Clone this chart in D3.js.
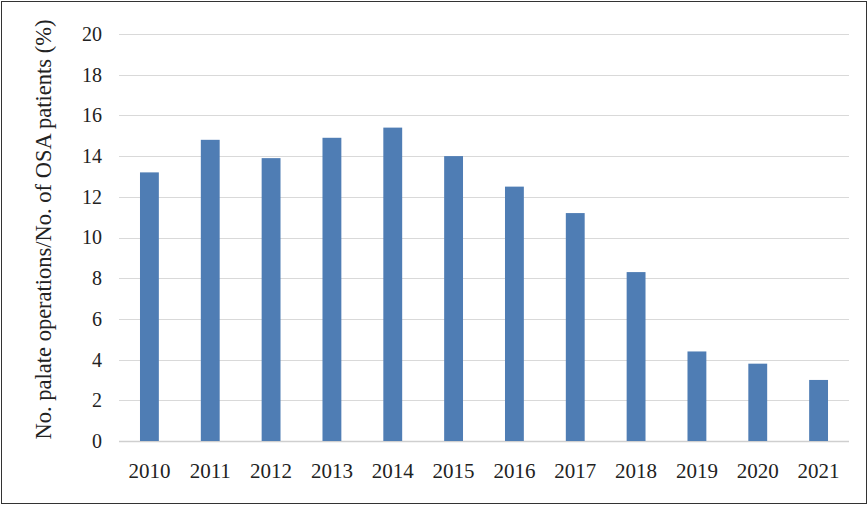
<!DOCTYPE html>
<html>
<head>
<meta charset="utf-8">
<script src="https://cdn.jsdelivr.net/npm/d3@7"></script>
<style>
  html, body { margin: 0; padding: 0; background: #fff; }
  svg { display: block; }
  text { font-family: "Liberation Serif", "Times New Roman", serif; fill: #222; }
</style>
</head>
<body>
<div id="chart"></div>
<script>
const years = ['2010', '2011', '2012', '2013', '2014', '2015', '2016', '2017', '2018', '2019', '2020', '2021'];
const ratios = [13.2, 14.8, 13.9, 14.9, 15.4, 14.0, 12.5, 11.2, 8.3, 4.4, 3.8, 3.0];
const yTicks = [0, 2, 4, 6, 8, 10, 12, 14, 16, 18, 20];
const yLabel = 'No. palate operations/No. of OSA patients (%)';

const width = 868;
const height = 505;
const margin = {top: 34, right: 19, bottom: 64, left: 119};

const svg = d3.select('#chart').append('svg')
  .attr('width', width)
  .attr('height', height);

svg.append('rect')
  .attr('x', 1.5).attr('y', 1.5)
  .attr('width', 865).attr('height', 502)
  .attr('fill', '#fff')
  .attr('stroke', '#333')
  .attr('stroke-width', 1);

const x = d3.scaleBand()
  .domain(years)
  .range([margin.left, width - margin.right])
  .paddingInner(0.69)
  .paddingOuter(0.345);

const y = d3.scaleLinear()
  .domain([0, 20])
  .range([height - margin.bottom, margin.top]);

// gridlines
svg.append('g')
  .selectAll('line')
  .data(yTicks)
  .join('line')
  .attr('x1', margin.left)
  .attr('x2', width - margin.right)
  .attr('y1', d => Math.round(y(d)) + 0.5)
  .attr('y2', d => Math.round(y(d)) + 0.5)
  .attr('stroke', d => d === 0 ? '#cfcfcf' : '#d9d9d9')
  .attr('stroke-width', d => d === 0 ? 1.5 : 1.2);

// bars
svg.append('g')
  .selectAll('rect')
  .data(years.map((yr, i) => ({year: yr, value: ratios[i]})))
  .join('rect')
  .attr('x', d => x(d.year))
  .attr('width', x.bandwidth())
  .attr('y', d => y(d.value))
  .attr('height', d => y(0) - y(d.value))
  .attr('fill', '#4f7db4');

// y tick labels
const yAxis = d3.axisLeft(y).tickValues(yTicks).tickSize(0).tickPadding(0);
const gy = svg.append('g')
  .attr('transform', `translate(${margin.left - 17},0)`)
  .call(yAxis);
gy.select('.domain').remove();
gy.selectAll('text')
  .attr('font-size', 20)
  .attr('fill', '#222');

// x tick labels
const xAxis = d3.axisBottom(x).tickSize(0).tickPadding(0);
const gx = svg.append('g')
  .attr('transform', `translate(0,${height - margin.bottom + 22})`)
  .call(xAxis);
gx.select('.domain').remove();
gx.selectAll('text')
  .attr('font-size', 21)
  .attr('fill', '#222');

// y axis title
svg.append('text')
  .attr('transform', `translate(51,229.5) rotate(-90)`)
  .attr('text-anchor', 'middle')
  .attr('font-size', 22.5)
  .text(yLabel);
</script>
</body>
</html>
